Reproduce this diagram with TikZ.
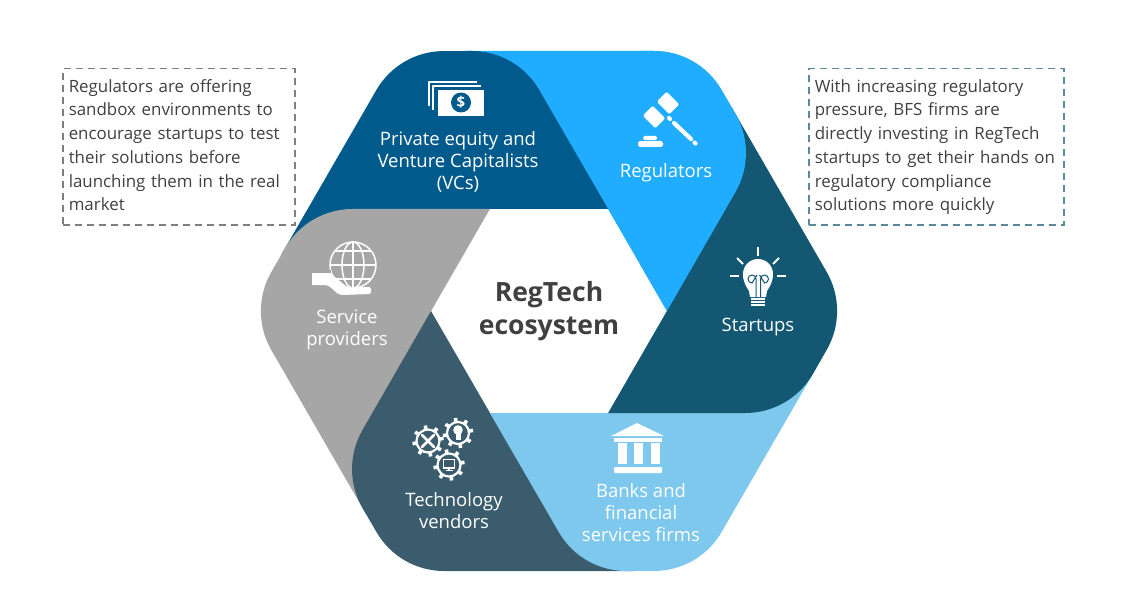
\documentclass[tikz,border=0pt]{standalone}
\usepackage{fontspec}
\setmainfont{Open Sans}
\definecolor{vcblue}{HTML}{005A8C}
\definecolor{regblue}{HTML}{20ACFF}
\definecolor{startblue}{HTML}{135772}
\definecolor{bankblue}{HTML}{7DC8EC}
\definecolor{techblue}{HTML}{3A5C6C}
\definecolor{servgray}{HTML}{A6A6A6}
\definecolor{inktext}{HTML}{404040}
\definecolor{leftdash}{HTML}{7F7F7F}
\definecolor{rightdash}{HTML}{5B8A9E}
\newcommand{\petal}[2]{\fill[#1,shift={(549,311)},rotate=#2] (59,-102) -- (-85,-260) -- (105,-260) arc[start angle=-90,end angle=-30,radius=78] -- (186.5,-197) arc[start angle=-30,end angle=30,radius=78] -- (118,0) -- cycle;}
\newcommand{\gearring}[3]{
\draw[white,line width=2.2pt] (#1,#2) circle[radius=#3];
\foreach \a in {0,45,...,315}{
\draw[white,line width=3.6pt,shift={(#1,#2)},rotate=\a+10] (#3,0)--(#3+4.2,0);
}}
\tikzset{
icon line/.style={draw=white,line cap=round,line join=round},
petaltext/.style={text=white,align=center,font=\fontsize{18.5}{21.8}\selectfont,inner sep=0pt},
notebox/.style={anchor=north west,dash pattern=on 7pt off 5pt,line width=1.5pt,text=inktext,align=left,minimum height=156pt,inner sep=6pt,font=\fontsize{16.9}{23.7}\selectfont},
}
\begin{document}
\begin{tikzpicture}[x=1pt,y=-1pt]
\useasboundingbox (0,0) rectangle (1130,591);
%%%%% Petals %%%%%
\petal{regblue}{0}
\petal{vcblue}{60}
\petal{servgray}{120}
\petal{techblue}{180}
\petal{bankblue}{240}
\petal{startblue}{300}
\begin{scope}
\clip (640,0) rectangle (1130,591);
\petal{regblue}{0}
\end{scope}
%%%%% Labels %%%%%
\node[align=center,text=inktext,inner sep=0pt,font=\fontsize{26.5}{33}\selectfont\bfseries] (centre) at (549,311) {RegTech\\ecosystem};
\node[petaltext] (vcs) at (458,162) {Private equity and\\Venture Capitalists\\(VCs)};
\node[petaltext] (regulators) at (666,173) {Regulators};
\node[petaltext] (startups) at (758,327) {Startups};
\node[petaltext] (banks) at (641,512.5) {Banks and\\financial\\services firms};
\node[petaltext] (vendors) at (454,510.5) {Technology\\vendors};
\node[petaltext] (providers) at (347,330) {Service\\providers};
%%%%% Notes %%%%%
\node[notebox,draw=leftdash,text width=220pt] (leftnote) at (62,68) {\strut Regulators are offering\\sandbox environments to\\encourage startups to test\\their solutions before\\launching them in the real\\market\strut};
\node[notebox,draw=rightdash,text width=243pt] (rightnote) at (808,68) {\strut With increasing regulatory\\pressure, BFS firms are\\directly investing in RegTech\\startups to get their hands on\\regulatory compliance\\solutions more quickly\strut};
%%%%% Money %%%%%
\draw[icon line,line width=2pt,line cap=butt] (429,106)--(429,82)--(477,82);
\draw[icon line,line width=2pt,line cap=butt] (433,110)--(433,86)--(481,86);
\fill[white] (438,90) rectangle (484,116);
\fill[vcblue] (461,102.5) circle[radius=10];
\node[text=white,inner sep=0pt,font=\fontsize{15}{15}\selectfont\bfseries] (dollar) at (461,102.5) {\$};
%%%%% Gavel %%%%%
\fill[white,rounded corners=1.5pt,shift={(668,103)},rotate=45] (-7,-9) rectangle (7,9);
\fill[white,rounded corners=1.5pt,shift={(654,117)},rotate=45] (-7,-9) rectangle (7,9);
\draw[icon line,line width=4.2pt] (669,118)--(670,119);
\draw[icon line,line width=4.2pt] (674,123)--(691,139);
\draw[icon line,line width=4.2pt] (694.5,142.5)--(695.5,143.5);
\fill[white,rounded corners=2.5pt] (638,141) rectangle (663,147);
\fill[white,rounded corners=1.5pt] (643,136) rectangle (657,140);
%%%%% Bulb %%%%%
\draw[icon line,line width=2pt,line cap=butt] (758,247)--(758,256);
\draw[icon line,line width=2pt,line cap=butt] (730,276)--(739,276);
\draw[icon line,line width=2pt,line cap=butt] (777,276)--(786,276);
\draw[icon line,line width=2pt,line cap=butt] (737,258)--(743,264);
\draw[icon line,line width=2pt,line cap=butt] (779,258)--(773,264);
\fill[white] (750,297) -- (749,291) .. controls (746,286) and (743,282) .. (743,274) arc[start angle=180,end angle=360,radius=15] .. controls (773,282) and (770,286) .. (767,291) -- (766,297) -- cycle;
\draw[startblue,line width=1pt] (756,297)--(756,279) arc[start angle=0,end angle=-270,radius=4] -- (757,275);
\draw[startblue,line width=1pt] (760.5,297)--(760.5,279) arc[start angle=180,end angle=450,radius=4] -- (759.5,275);
\foreach \y in {298.5,301.5,304.5}{
\draw[white,line width=2pt] (751,\y)--(765,\y);
}
%%%%% Bank %%%%%
\fill[white] (611,436) -- (637,423) -- (664,436) -- cycle;
\fill[white] (614,438) rectangle (662,442);
\foreach \x in {618,634,651}{
\fill[white] (\x,443) rectangle (\x+8.5,464);
}
\fill[white,rounded corners=1pt] (614,467) rectangle (662,473);
%%%%% Gears %%%%%
\gearring{428}{441}{11.5}
\gearring{458}{433}{11}
\gearring{449}{465}{11.5}
\draw[icon line,line width=2.6pt] (422,435)--(434,447);
\draw[icon line,line width=2.6pt] (434,435)--(422,447);
\fill[white] (458,430) circle[radius=4.8];
\fill[white] (455.5,433) rectangle (460.5,440);
\draw[white,line width=1.2pt] (443.5,459.5) rectangle (454.5,468);
\draw[white,line width=1.2pt] (449,468)--(449,470.5) (445.5,470.5)--(452.5,470.5);
%%%%% Globe %%%%%
\draw[white,line width=1.5pt] (353,265) circle[radius=23];
\draw[white,line width=1.5pt] (353,265) ellipse[x radius=11,y radius=23];
\draw[white,line width=1.5pt] (353,242)--(353,288);
\draw[white,line width=1.5pt] (330,265)--(376,265);
\draw[white,line width=1.5pt] (335,251)--(371,251);
\draw[white,line width=1.5pt] (335,279)--(371,279);
%%%%% Hand %%%%%
\fill[servgray] (310,270) rectangle (331,287);
\fill[white] (312,273) -- (330,273) -- (347,287) -- (369,287) .. controls (372,287) and (372,294) .. (369,294) -- (342,295) .. controls (336,295) and (332,286) .. (326,285) -- (312,285) -- cycle;
\end{tikzpicture}
\end{document}
